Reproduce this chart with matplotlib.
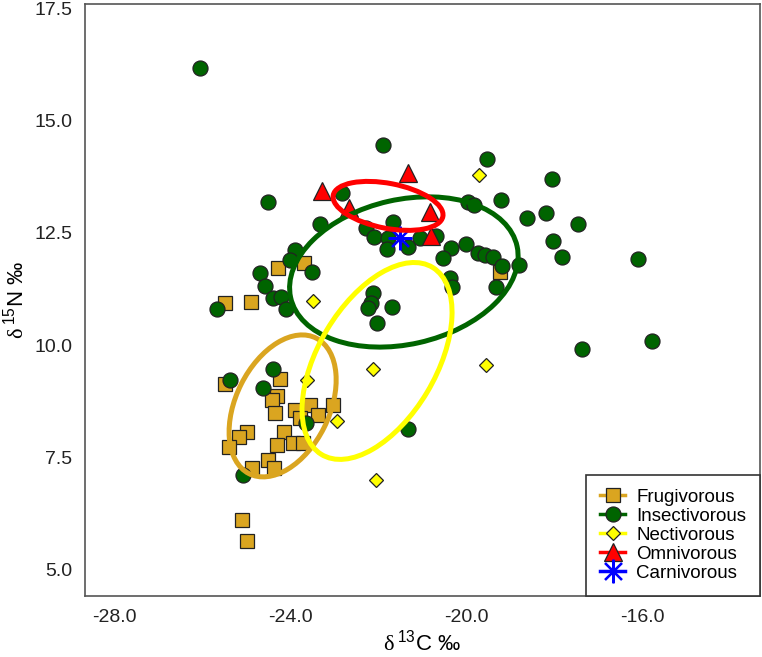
import matplotlib
matplotlib.use("Agg")
import matplotlib.pyplot as plt
from matplotlib.patches import Ellipse
from matplotlib.lines import Line2D

plt.rcParams['font.family'] = ['Liberation Sans', 'DejaVu Sans']
plt.rcParams['mathtext.fontset'] = 'custom'
plt.rcParams['mathtext.rm'] = 'Liberation Serif'
plt.rcParams['mathtext.sf'] = 'Liberation Sans'

# d13C (x) and d15N (y) per diet group
frug_c = [-25.49, -24.90, -24.29, -23.69, -19.23, -25.49, -24.24, -24.31, -24.42, -24.36,
          -23.90, -23.56, -23.79, -23.38, -23.03, -24.99, -25.18, -25.40, -24.15, -24.31,
          -23.95, -23.72, -24.88, -24.51, -24.38, -25.11, -24.99]
frug_n = [10.94, 10.96, 11.72, 11.83, 11.63, 9.14, 9.25, 8.87, 8.78, 8.49,
          8.56, 8.67, 8.38, 8.45, 8.67, 8.07, 7.96, 7.74, 8.07, 7.78,
          7.82, 7.82, 7.27, 7.45, 7.27, 6.11, 5.65]

insect_c = [-26.06, -21.90, -22.83, -24.51, -23.33, -22.28, -22.10, -23.90, -24.01, -23.51,
            -24.70, -24.58, -24.40, -24.22, -24.10, -25.68, -22.12, -22.17, -22.24, -22.03,
            -19.53, -18.05, -19.21, -19.96, -19.82, -18.62, -18.18, -17.45, -18.02, -17.82,
            -16.09, -17.36, -15.77, -21.67, -21.78, -21.80, -21.33, -21.05, -20.69, -20.35,
            -20.53, -20.00, -19.73, -19.57, -19.39, -19.18, -18.80, -20.37, -20.32, -19.32,
            -21.69, -25.38, -24.40, -24.63, -23.65, -25.08, -21.33]
insect_n = [16.17, 14.45, 13.39, 13.19, 12.70, 12.61, 12.41, 12.12, 11.90, 11.63,
            11.61, 11.32, 11.05, 11.07, 10.80, 10.80, 11.16, 10.94, 10.83, 10.49,
            14.14, 13.70, 13.23, 13.19, 13.12, 12.83, 12.94, 12.70, 12.32, 11.96,
            11.92, 9.92, 10.09, 12.74, 12.38, 12.14, 12.18, 12.38, 12.43, 12.16,
            11.94, 12.25, 12.05, 12.01, 11.96, 11.76, 11.78, 11.49, 11.29, 11.29,
            10.85, 9.23, 9.47, 9.05, 8.27, 7.11, 8.14]

nect_c = [-23.49, -19.71, -23.63, -22.94, -22.12, -19.55, -22.05]
nect_n = [10.98, 13.79, 9.23, 8.31, 9.47, 9.56, 7.00]

omni_c = [-23.28, -22.67, -21.33, -20.82, -20.80]
omni_n = [13.43, 13.05, 13.83, 12.96, 12.43]

carn_c = [-21.51]
carn_n = [12.38]

# standard ellipses: centre x, centre y, width, height, angle
ell_frug = (-24.18, 8.65, 3.38, 2.12, 62.8)
ell_insect = (-21.42, 11.63, 5.28, 3.22, 12.4)
ell_nect = (-22.03, 9.65, 4.87, 2.67, 58.5)
ell_omni = (-21.78, 13.10, 2.54, 1.00, -10.7)

c_frug = '#DAA520'
c_insect = '#006400'
c_nect = '#FFFF00'
c_omni = '#FF0000'
c_carn = '#0000FF'

fig = plt.figure(figsize=(7.62, 6.57), dpi=100)
ax = fig.add_axes([0.1115, 0.0928, 0.886, 0.901])

edge = '#222222'
ax.plot(frug_c, frug_n, 's', ms=10.5, mfc=c_frug, mec=edge, mew=0.9, zorder=3)
ax.plot(insect_c, insect_n, 'o', ms=10.8, mfc=c_insect, mec=edge, mew=0.9, zorder=3)
ax.plot(nect_c, nect_n, 'D', ms=7.2, mfc=c_nect, mec=edge, mew=0.9, zorder=3)
ax.plot(omni_c, omni_n, '^', ms=13, mfc=c_omni, mec=edge, mew=0.9, zorder=3)
ax.plot(carn_c, carn_n, marker=(8, 2, 0), ms=17, color=c_carn, mew=1.6, ls='none', zorder=4)

for e, col in [(ell_frug, c_frug), (ell_insect, c_insect), (ell_nect, c_nect), (ell_omni, c_omni)]:
    ax.add_patch(Ellipse((e[0], e[1]), e[2], e[3], angle=e[4], fill=False,
                         edgecolor=col, lw=3.6, zorder=5))

ax.set_xlim(-28.68, -13.31)
ax.set_ylim(4.42, 17.59)
ax.set_xticks([-28, -24, -20, -16])
ax.set_xticklabels(['-28.0', '-24.0', '-20.0', '-16.0'])
ax.set_yticks([5, 7.5, 10, 12.5, 15, 17.5])
ax.set_yticklabels(['5.0', '7.5', '10.0', '12.5', '15.0', '17.5'])
ax.tick_params(length=0, labelsize=14, colors='#222222')
ax.tick_params(axis='x', pad=9)
ax.tick_params(axis='y', pad=9)
for s in ax.spines.values():
    s.set_color('#555555')
    s.set_linewidth(1.2)

ax.set_xlabel(r'$\mathrm{\delta}\,{}^{\mathsf{13}}$C ‰', fontsize=16, labelpad=3)
ax.set_ylabel(r'$\mathrm{\delta}\,{}^{\mathsf{15}}$N ‰', fontsize=16, labelpad=4)

handles = [
    Line2D([], [], color=c_frug, lw=2.5, marker='s', ms=10.5, mfc=c_frug, mec=edge, mew=0.9),
    Line2D([], [], color=c_insect, lw=2.5, marker='o', ms=10.8, mfc=c_insect, mec=edge, mew=0.9),
    Line2D([], [], color=c_nect, lw=2.5, marker='D', ms=7.2, mfc=c_nect, mec=edge, mew=0.9),
    Line2D([], [], color=c_omni, lw=2.5, marker='^', ms=13, mfc=c_omni, mec=edge, mew=0.9),
    Line2D([], [], color=c_carn, lw=2.5, marker=(8, 2, 0), ms=17, mew=1.6),
]
labels = ['Frugivorous', 'Insectivorous', 'Nectivorous', 'Omnivorous', 'Carnivorous']
leg = ax.legend(handles, labels, loc='lower right', borderaxespad=0, fontsize=13.5,
                handlelength=1.3, labelspacing=0.1, handletextpad=0.6,
                borderpad=0.75, fancybox=False, framealpha=1)
leg.get_frame().set_edgecolor('#333333')
leg.get_frame().set_linewidth(1.2)

fig.savefig('out.png', dpi=100)
